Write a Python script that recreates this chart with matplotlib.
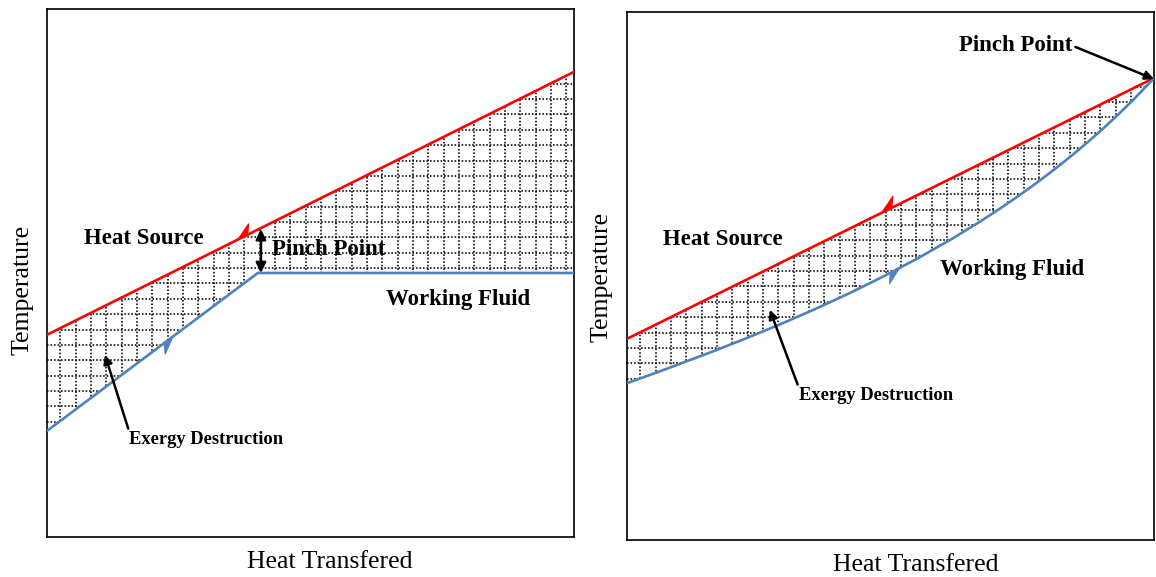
import numpy as np
import matplotlib
matplotlib.use('Agg')
import matplotlib.pyplot as plt
from matplotlib.patches import Polygon, PathPatch
from matplotlib.path import Path

plt.rcParams['font.family'] = ['Liberation Serif', 'DejaVu Serif']

# left panel: linear heat source, working fluid with a kink (pinch in the middle)
left_source_x = [0, 100]
left_source_y = [38.3, 88.1]
left_fluid_x = [0, 40.0, 100]
left_fluid_y = [20.1, 50.0, 50.0]

# right panel: linear heat source, curved working fluid (pinch at the hot end)
right_source_x = [0, 100]
right_source_y = [38.1, 87.5]
# working fluid curve as cubic bezier control points (start, ctrl, ctrl, end)
right_fluid_x = [0, 33, 72, 100]
right_fluid_y = [29.7, 41.5, 57.0, 87.5]

red = '#ff0000'
blue = '#4f81bd'
bold_font = dict(fontweight='bold', fontsize=16.5)

fig = plt.figure(figsize=(11.56, 5.77), dpi=100)
ax1 = fig.add_axes([47 / 1156, 40 / 577, 527 / 1156, 528 / 577])
ax2 = fig.add_axes([627 / 1156, 37 / 577, 527 / 1156, 528 / 577])


def setup(ax, label_x, ylab_x, ylab_y):
    ax.set_xlim(0, 100)
    ax.set_ylim(0, 100)
    ax.set_xticks([])
    ax.set_yticks([])
    for s in ax.spines.values():
        s.set_linewidth(1.2)
    ax.set_xlabel('Heat Transfered', fontsize=18.5)
    ax.xaxis.set_label_coords(label_x, -0.047)
    ax.xaxis.label.set_verticalalignment('center')
    ax.set_ylabel('Temperature', fontsize=18.5)
    ax.yaxis.set_label_coords(ylab_x, ylab_y)
    ax.yaxis.label.set_verticalalignment('center')
    ax.yaxis.label.set_horizontalalignment('center')


def dotted_grid(ax, clip):
    step = 2.91
    for v in np.arange(100 - step / 2, 0, -step):
        ln = ax.axvline(v, color='black', lw=1.15, ls=(0, (1, 1.2)), zorder=1.5)
        ln.set_clip_path(clip)
    for v in np.arange(step / 2, 100, step):
        ln = ax.axhline(v, color='black', lw=1.15, ls=(0, (1, 1.2)), zorder=1.5)
        ln.set_clip_path(clip)


def half_head(ax, tip, direction, color):
    d = np.array(direction, dtype=float)
    d = d / np.hypot(*d)
    hl = 3.2
    start = np.array(tip) - d * hl
    ax.arrow(start[0], start[1], d[0] * hl, d[1] * hl, shape='left', width=0,
             head_width=3.6, head_length=hl, overhang=0.35,
             length_includes_head=True, color=color, lw=0.8, zorder=4)


# ---- left panel ----
setup(ax1, 0.537, -0.047, 0.468)
poly = Polygon(list(zip(left_source_x, left_source_y)) +
               list(zip(left_fluid_x[::-1], left_fluid_y[::-1])),
               closed=True, facecolor='none', edgecolor='none')
ax1.add_patch(poly)
dotted_grid(ax1, poly)
ax1.plot(left_source_x, left_source_y, color=red, lw=1.9, zorder=3)
ax1.plot(left_fluid_x, left_fluid_y, color=blue, lw=1.9, zorder=3)
half_head(ax1, (36.2, 56.3), (-100, -49.8), red)
half_head(ax1, (23.9, 37.96), (40, 29.9), blue)

ax1.annotate('', xy=(40.6, 58.3), xytext=(40.6, 50.0),
             arrowprops=dict(arrowstyle='<|-|>', color='black', lw=1.8,
                             mutation_scale=15, shrinkA=0, shrinkB=0))
ax1.text(42.7, 54.5, 'Pinch Point', ha='left', va='center', **bold_font)
ax1.text(18.4, 56.6, 'Heat Source', ha='center', va='center', **bold_font)
ax1.text(78.0, 44.9, 'Working Fluid', ha='center', va='center', **bold_font)
ax1.annotate('Exergy Destruction', xy=(11.0, 34.5), xytext=(30.2, 18.4),
             ha='center', va='center', fontweight='bold', fontsize=13.3,
             arrowprops=dict(arrowstyle='-|>', color='black', lw=1.8,
                             mutation_scale=13, shrinkA=0, shrinkB=0,
                             relpos=(0.0, 1.0)))

# ---- right panel ----
setup(ax2, 0.547, -0.049, 0.498)
ctrl = list(zip(right_fluid_x, right_fluid_y))
curve = Path(ctrl, [Path.MOVETO, Path.CURVE4, Path.CURVE4, Path.CURVE4])
region = Path([(right_source_x[0], right_source_y[0]),
               (right_source_x[1], right_source_y[1])] + ctrl[::-1][1:] + [ctrl[0]],
              [Path.MOVETO, Path.LINETO, Path.CURVE4, Path.CURVE4, Path.CURVE4,
               Path.CLOSEPOLY])
region_patch = PathPatch(region, facecolor='none', edgecolor='none')
ax2.add_patch(region_patch)
dotted_grid(ax2, region_patch)
ax2.plot(right_source_x, right_source_y, color=red, lw=1.9, zorder=3)
ax2.add_patch(PathPatch(curve, facecolor='none', edgecolor=blue, lw=1.9, zorder=3))
half_head(ax2, (48.4, 62.1), (-100, -49.4), red)
half_head(ax2, (51.8, 51.6), (139, 73.3), blue)

ax2.text(18.2, 57.0, 'Heat Source', ha='center', va='center', **bold_font)
ax2.text(73.1, 51.3, 'Working Fluid', ha='center', va='center', **bold_font)
ax2.annotate('Pinch Point', xy=(100, 87.3), xytext=(73.8, 93.6),
             ha='center', va='center', **bold_font,
             arrowprops=dict(arrowstyle='-|>', color='black', lw=1.8,
                             mutation_scale=13, shrinkA=0, shrinkB=0,
                             relpos=(1.0, 0.5)))
ax2.annotate('Exergy Destruction', xy=(27.1, 43.6), xytext=(47.2, 27.3),
             ha='center', va='center', fontweight='bold', fontsize=13.3,
             arrowprops=dict(arrowstyle='-|>', color='black', lw=1.8,
                             mutation_scale=13, shrinkA=0, shrinkB=0,
                             relpos=(0.0, 1.0)))

fig.savefig('out.png', dpi=100)
